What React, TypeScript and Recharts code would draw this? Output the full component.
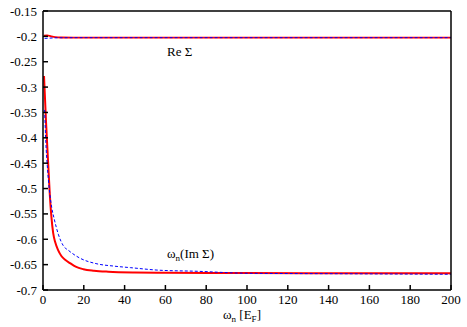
import React from 'react';
import { LineChart, Line, XAxis, YAxis, ReferenceDot } from 'recharts';

const xTicks = [0, 20, 40, 60, 80, 100, 120, 140, 160, 180, 200];
const yTicks = [-0.7, -0.65, -0.6, -0.55, -0.5, -0.45, -0.4, -0.35, -0.3, -0.25, -0.2, -0.15];

// Re Sigma, red solid
const reRedX = [0.5, 2, 4, 6, 9, 15, 40, 100, 200];
const reRedY = [-0.1985, -0.198, -0.2, -0.2015, -0.2022, -0.2025, -0.2025, -0.2025, -0.2025];
// Re Sigma, blue dashed
const reBlueX = [0.8, 3, 8, 20, 100, 200];
const reBlueY = [-0.204, -0.2035, -0.2027, -0.2025, -0.2025, -0.2025];

// omega_n * Im Sigma, red solid
const imRedX = [0.5, 1.5, 2.45, 3.3, 4.1, 5, 6, 7.35, 9, 11, 13.2, 16, 19.8, 25, 32, 45, 60, 90, 130, 200];
const imRedY = [-0.278, -0.37, -0.444, -0.509, -0.555, -0.588, -0.606, -0.621, -0.633, -0.641, -0.647, -0.654, -0.659, -0.662, -0.664, -0.6655, -0.666, -0.6665, -0.667, -0.667];
// omega_n * Im Sigma, blue dashed
const imBlueX = [0.8, 1.4, 2.1, 3.3, 4.3, 5.5, 7.5, 10, 12.5, 18, 26, 35, 43, 57, 75, 100, 150, 200];
const imBlueY = [-0.345, -0.41, -0.455, -0.509, -0.538, -0.56, -0.59, -0.613, -0.622, -0.637, -0.648, -0.653, -0.656, -0.661, -0.663, -0.667, -0.668, -0.669];

const toPoints = (xs: number[], ys: number[]) => xs.map((x, i) => ({ x, y: ys[i] }));

const reRed = toPoints(reRedX, reRedY);
const reBlue = toPoints(reBlueX, reBlueY);
const imRed = toPoints(imRedX, imRedY);
const imBlue = toPoints(imBlueX, imBlueY);

const FONT = 'Liberation Serif';
const fmtY = (v: number) => String(Number(v.toFixed(2)));
const TL = 5; // inward tick length
const TW = 1.5;
const GAP = 6;

const BottomTick = (props: any) => {
  const { x, y, payload } = props;
  const ay = y - GAP;
  return (
    <g>
      <line x1={x} y1={ay} x2={x} y2={ay - TL} stroke="#000" strokeWidth={TW} />
      <text x={x} y={ay + 14} textAnchor="middle" style={{ fontFamily: FONT, fontSize: 13 }} fill="#000">
        {payload.value}
      </text>
    </g>
  );
};

const TopTick = (props: any) => {
  const { x, y } = props;
  return <line x1={x} y1={y} x2={x} y2={y + TL} stroke="#000" strokeWidth={TW} />;
};

const LeftTick = (props: any) => {
  const { x, y, payload } = props;
  const ax = x + GAP;
  return (
    <g>
      <line x1={ax} y1={y} x2={ax + TL} y2={y} stroke="#000" strokeWidth={TW} />
      <text x={ax - 6} y={y + 4.5} textAnchor="end" style={{ fontFamily: FONT, fontSize: 13 }} fill="#000">
        {fmtY(payload.value)}
      </text>
    </g>
  );
};

const RightTick = (props: any) => {
  const { x, y } = props;
  return <line x1={x} y1={y} x2={x - TL} y2={y} stroke="#000" strokeWidth={TW} />;
};

const XLabel = (props: any) => {
  const vb = props.viewBox || {};
  const cx = vb.x + vb.width / 2 - 5;
  return (
    <text x={cx} y={vb.y + 29} textAnchor="middle" style={{ fontFamily: FONT, fontSize: 13 }} fill="#000">
      <tspan>ω</tspan>
      <tspan fontSize={9} dy={3}>n</tspan>
      <tspan dy={-3}> [E</tspan>
      <tspan fontSize={9} dy={3}>F</tspan>
      <tspan dy={-3}>]</tspan>
    </text>
  );
};

const ReLabel = (props: any) => {
  const vb = props.viewBox || {};
  return (
    <text x={vb.x} y={vb.y} textAnchor="start" style={{ fontFamily: FONT, fontSize: 13 }} fill="#000">
      Re Σ
    </text>
  );
};

const ImLabel = (props: any) => {
  const vb = props.viewBox || {};
  return (
    <text x={vb.x} y={vb.y} textAnchor="start" style={{ fontFamily: FONT, fontSize: 13 }} fill="#000">
      <tspan>ω</tspan>
      <tspan fontSize={9} dy={3}>n</tspan>
      <tspan dy={-3}>(Im Σ)</tspan>
    </text>
  );
};

const axisLine = { stroke: '#000', strokeWidth: 1.5 };

export default function App() {
  return (
    <div style={{ position: 'absolute', left: 0, top: 0, background: '#fff' }}>
      <LineChart width={467} height={327} margin={{ top: 10, right: 15, left: 0, bottom: 0 }}>
        <XAxis
          xAxisId="b"
          type="number"
          dataKey="x"
          domain={[0, 200]}
          ticks={xTicks}
          height={37}
          tickSize={0}
          tickMargin={GAP}
          tick={BottomTick}
          tickLine={false}
          axisLine={axisLine}
          label={XLabel}
        />
        <XAxis
          xAxisId="t"
          orientation="top"
          type="number"
          dataKey="x"
          domain={[0, 200]}
          ticks={xTicks}
          height={1}
          tickSize={0}
          tickMargin={0}
          tick={TopTick}
          tickLine={false}
          axisLine={axisLine}
        />
        <YAxis
          yAxisId="l"
          type="number"
          domain={[-0.7, -0.15]}
          ticks={yTicks}
          width={43}
          tickSize={0}
          tickMargin={GAP}
          tick={LeftTick}
          tickLine={false}
          axisLine={axisLine}
        />
        <YAxis
          yAxisId="r"
          orientation="right"
          type="number"
          domain={[-0.7, -0.15]}
          ticks={yTicks}
          width={1}
          tickSize={0}
          tickMargin={0}
          tick={RightTick}
          tickLine={false}
          axisLine={axisLine}
        />
        <Line xAxisId="b" yAxisId="l" data={reRed} dataKey="y" type="monotone" stroke="#ff0000" strokeWidth={1.8} dot={false} isAnimationActive={false} />
        <Line xAxisId="b" yAxisId="l" data={imRed} dataKey="y" type="monotone" stroke="#ff0000" strokeWidth={2} dot={false} isAnimationActive={false} />
        <Line xAxisId="b" yAxisId="l" data={reBlue} dataKey="y" type="monotone" stroke="#0000ff" strokeWidth={1} strokeDasharray="3 2" dot={false} isAnimationActive={false} />
        <Line xAxisId="b" yAxisId="l" data={imBlue} dataKey="y" type="monotone" stroke="#0000ff" strokeWidth={1} strokeDasharray="3 2" dot={false} isAnimationActive={false} />
        <ReferenceDot xAxisId="b" yAxisId="l" x={60.8} y={-0.2387} r={0} fill="none" stroke="none" label={ReLabel} />
        <ReferenceDot xAxisId="b" yAxisId="l" x={60.8} y={-0.6369} r={0} fill="none" stroke="none" label={ImLabel} />
      </LineChart>
    </div>
  );
}
